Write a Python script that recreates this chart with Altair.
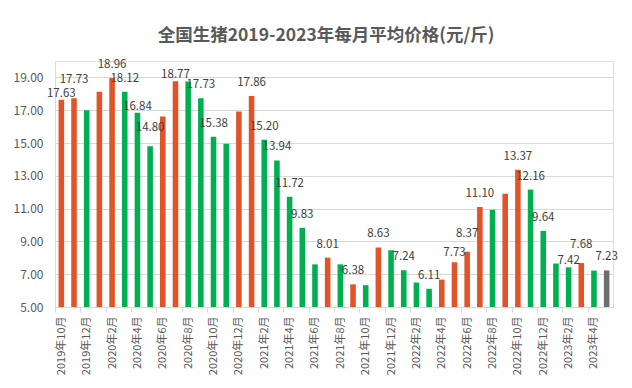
import altair as alt
import pandas as pd

# Categories: months 2019-10 .. 2023-05
months = (
    [f"2019年{m}月" for m in (10, 11, 12)]
    + [f"2020年{m}月" for m in range(1, 13)]
    + [f"2021年{m}月" for m in range(1, 13)]
    + [f"2022年{m}月" for m in range(1, 13)]
    + [f"2023年{m}月" for m in range(1, 6)]
)

prices = [
    17.63, 17.73, 17.00,
    18.13, 18.96, 18.12, 16.84, 14.80, 16.61, 18.77, 18.75, 17.73, 15.38, 14.95, 16.92,
    17.86, 15.20, 13.94, 11.72, 9.83, 7.60, 8.01, 7.60, 6.38, 6.33, 8.63, 8.46,
    7.24, 6.49, 6.11, 6.67, 7.73, 8.37, 11.10, 10.93, 11.91, 13.37, 12.16, 9.64,
    7.65, 7.42, 7.68, 7.22, 7.23,
]

# 涨 = rise vs previous month, 跌 = fall, 当前 = latest month
trend = [
    "涨", "涨", "跌",
    "涨", "涨", "跌", "跌", "跌", "涨", "涨", "跌", "跌", "跌", "跌", "涨",
    "涨", "跌", "跌", "跌", "跌", "跌", "涨", "跌", "涨", "跌", "涨", "跌",
    "跌", "跌", "跌", "涨", "涨", "涨", "涨", "跌", "涨", "涨", "跌", "跌",
    "跌", "跌", "涨", "跌", "当前",
]

labeled_months = [
    "2019年10月", "2019年11月", "2020年2月", "2020年3月", "2020年4月", "2020年5月",
    "2020年7月", "2020年9月", "2020年10月", "2021年1月", "2021年2月", "2021年3月",
    "2021年4月", "2021年5月", "2021年7月", "2021年9月", "2021年11月", "2022年1月",
    "2022年3月", "2022年5月", "2022年6月", "2022年7月", "2022年10月", "2022年11月",
    "2022年12月", "2023年2月", "2023年3月", "2023年5月",
]

trend_domain = ["涨", "跌", "当前"]
trend_colors = ["#E0542A", "#00B050", "#6E6E6E"]

y_ticks = [5, 7, 9, 11, 13, 15, 17, 19]
y_base = 5

# label placement nudges (presentation only)
low_labels = ["2019年10月", "2020年4月", "2020年7月", "2023年2月"]
lowish_labels = ["2022年5月"]
high_labels = ["2019年11月", "2020年5月", "2022年6月", "2023年3月"]

df = pd.DataFrame({"month": months, "price": prices, "trend": trend})
df["label"] = [f"{p:.2f}" if m in labeled_months else "" for m, p in zip(months, prices)]
df["place"] = [
    "low" if m in low_labels
    else "lowish" if m in lowish_labels
    else "high" if m in high_labels
    else "mid"
    for m in months
]

FONT = "Noto Sans CJK SC"
PW, PH = 558, 246
step = PW / len(months)

x = alt.X(
    "month:N",
    sort=months,
    scale=alt.Scale(paddingInner=0.56, paddingOuter=0.28),
    axis=alt.Axis(
        values=months[::2],
        labelAngle=-90,
        labelAlign="right",
        labelBaseline="middle",
        title=None,
        tickOffset=-step / 2,
        labelOffset=step / 2,
        tickSize=5,
        tickColor="#D9D9D9",
        domainColor="#D9D9D9",
        labelColor="#595959",
        labelFont=FONT,
        labelFontSize=11,
        labelPadding=4,
        grid=False,
    ),
)
y = alt.Y(
    "price:Q",
    scale=alt.Scale(domain=[5, 20], nice=False, zero=False),
    axis=alt.Axis(
        values=y_ticks,
        format=".2f",
        title=None,
        ticks=False,
        domain=False,
        gridColor="#D9D9D9",
        labelColor="#595959",
        labelFont=FONT,
        labelFontSize=12,
        labelPadding=12,
    ),
)

bars = alt.Chart(df).mark_bar().encode(
    x=x,
    y=y,
    y2=alt.datum(y_base),
    color=alt.Color("trend:N", scale=alt.Scale(domain=trend_domain, range=trend_colors), legend=None),
)


def label_layer(place, dy):
    return (
        alt.Chart(df)
        .transform_filter(alt.datum.place == place)
        .mark_text(dy=dy, baseline="middle", fontSize=11.5, color="#404040", font=FONT)
        .encode(x=x, y=y, text="label:N")
    )


chart = (
    alt.layer(
        bars,
        label_layer("mid", -13),
        label_layer("low", -6),
        label_layer("lowish", -9),
        label_layer("high", -18),
    )
    .properties(
        width=PW,
        height=PH,
        autosize=alt.AutoSizeParams(type="none"),
        padding={"left": 47, "top": 53, "right": 11, "bottom": 73},
        title=alt.TitleParams(
            "全国生猪2019-2023年每月平均价格(元/斤)",
            fontSize=17.5,
            fontWeight="bold",
            color="#595959",
            font=FONT,
            offset=15,
            dx=-8,
        ),
    )
    .configure_view(stroke=None)
    .configure(background="white")
)

chart.save("out.html", embed_options={"renderer": "svg", "actions": False})
